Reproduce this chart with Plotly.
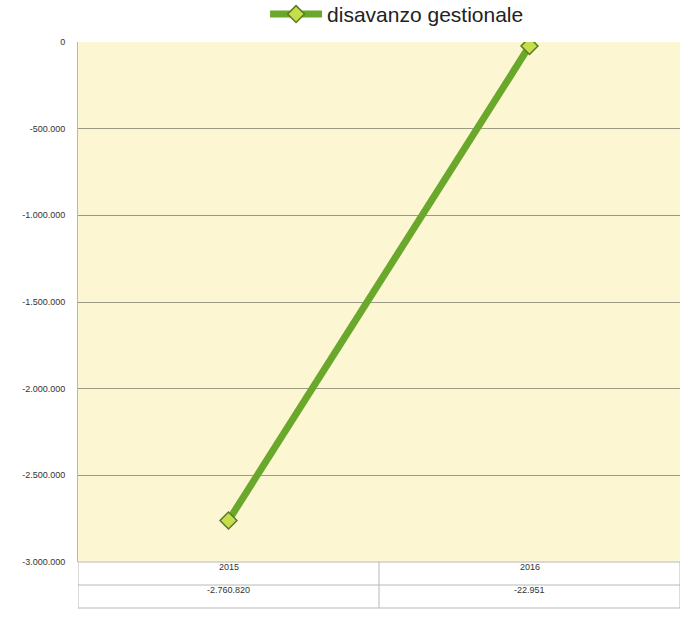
import plotly.graph_objects as go

years = ["2015", "2016"]
values = [-2760820, -22951]
value_labels = ["-2.760.820", "-22.951"]
series_name = "disavanzo gestionale"
tick_vals = [0, -500000, -1000000, -1500000, -2000000, -2500000, -3000000]
tick_text = ["0", "-500.000", "-1.000.000", "-1.500.000", "-2.000.000", "-2.500.000", "-3.000.000"]

FONT = "Liberation Sans Narrow, Liberation Sans, Arial"

fig = go.Figure()
fig.add_trace(go.Scatter(
    x=years, y=values, name=series_name, mode="lines+markers",
    line=dict(color="#6aa82c", width=7),
    marker=dict(symbol="diamond", size=13, color="#c6dd4c",
                line=dict(color="#5a7a20", width=1.5)),
))

H = 520.0
r1 = -23 / H
r2 = -46 / H
shapes = []
line_col = "#b8b8b8"
shapes.append(dict(type="rect", xref="x", yref="paper", x0=-0.5, x1=1.5, y0=r2, y1=0,
                   line=dict(color=line_col, width=1), fillcolor="white", layer="above"))
shapes.append(dict(type="line", xref="x", yref="paper", x0=-0.5, x1=1.5, y0=r1, y1=r1,
                   line=dict(color=line_col, width=1)))
shapes.append(dict(type="line", xref="x", yref="paper", x0=0.5, x1=0.5, y0=r2, y1=0,
                   line=dict(color=line_col, width=1)))

annotations = []
for i, (yr, vl) in enumerate(zip(years, value_labels)):
    annotations.append(dict(x=i, y=r1 / 2, xref="x", yref="paper", text=yr, showarrow=False,
                            font=dict(size=9, color="#333333", family=FONT)))
    annotations.append(dict(x=i, y=(r1 + r2) / 2, xref="x", yref="paper", text=vl, showarrow=False,
                            font=dict(size=9, color="#333333", family=FONT)))

fig.update_layout(
    width=683, height=618,
    margin=dict(l=78, r=3, t=42, b=56, autoexpand=False),
    paper_bgcolor="white",
    plot_bgcolor="#fcf6d2",
    showlegend=True,
    legend=dict(orientation="h", x=0.53, xanchor="center", y=1.053, yanchor="middle",
                font=dict(size=21, color="#222222", family=FONT),
                itemwidth=52, bgcolor="rgba(0,0,0,0)"),
    xaxis=dict(type="category", range=[-0.5, 1.5], showticklabels=False, showgrid=False,
               zeroline=False, showline=False),
    yaxis=dict(range=[-3000000, 0], tickvals=tick_vals, ticktext=tick_text,
               showgrid=True, gridcolor="#9a9a84", gridwidth=1, zeroline=False,
               showline=True, linecolor="#b8b8b8", linewidth=1,
               ticks="", ticklen=0, ticklabelstandoff=10,
               tickfont=dict(size=9, color="#333333", family=FONT)),
    shapes=shapes,
    annotations=annotations,
)

fig.write_html("out.html", config={"displayModeBar": False},
               post_script="document.body.style.margin='0';document.body.style.overflow='hidden';")
